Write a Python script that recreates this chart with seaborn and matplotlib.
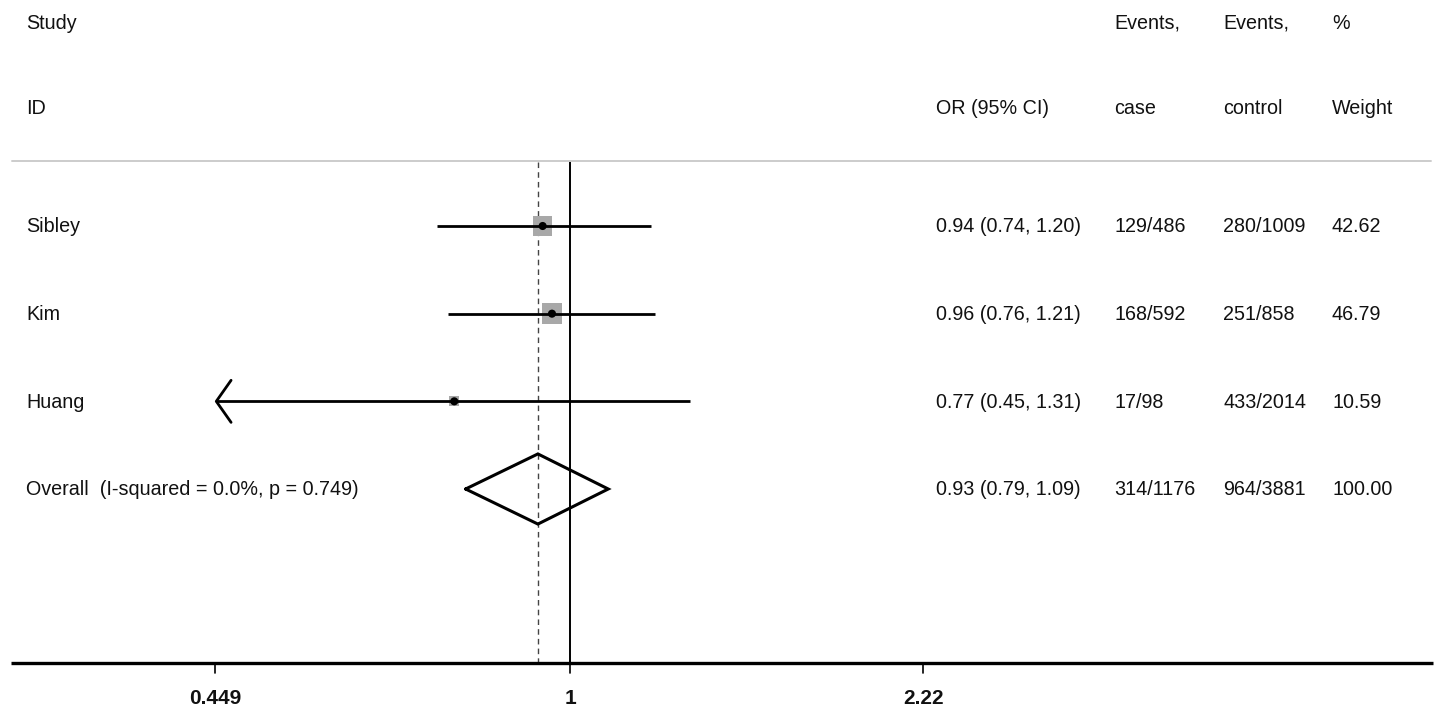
import numpy as np
import pandas as pd
import matplotlib
matplotlib.use("Agg")
import matplotlib.pyplot as plt
import seaborn as sns

# ---- data ----
studies = ["Sibley", "Kim", "Huang"]
or_est = [0.94, 0.96, 0.77]
ci_low = [0.74, 0.76, 0.45]
ci_high = [1.20, 1.21, 1.31]
events_case = ["129/486", "168/592", "17/98"]
events_control = ["280/1009", "251/858", "433/2014"]
weights = [42.62, 46.79, 10.59]

overall_label = "Overall  (I-squared = 0.0%, p = 0.749)"
overall_est = 0.93
overall_low = 0.79
overall_high = 1.09
overall_case = "314/1176"
overall_control = "964/3881"
overall_weight = 100.00

tick_values = [0.449, 1, 2.22]
tick_labels = ["0.449", "1", "2.22"]

# ---- figure ----
sns.set_theme(style="white")
plt.rcParams['font.family'] = ['Liberation Sans', 'DejaVu Sans']

W, H = 1441, 715
fig = plt.figure(figsize=(W / 100, H / 100), dpi=100)
ax = fig.add_axes([0, 0, 1, 1])
ax.set_xscale("log")
ax.set_xlim(0.2762, 7.14)
ax.set_ylim(6.578, -1.578)
ax.axis("off")

n = len(studies)
rows = np.arange(1, n + 1)
overall_row = n + 1
axis_y = 5.985
top_y = 0.27

df = pd.DataFrame({"study": studies, "est": or_est, "lo": ci_low, "hi": ci_high,
                   "w": weights, "row": rows})

xmin_disp = tick_values[0]

# vertical reference lines
ax.plot([1, 1], [top_y, axis_y], color="black", lw=1.4, zorder=1)
ax.plot([overall_est, overall_est], [top_y, axis_y], color="#444444", lw=1.0,
        ls=(0, (4, 3)), zorder=1)

# CI lines (with arrows when clipped)
for _, r in df.iterrows():
    lo = max(r.lo, xmin_disp)
    ax.plot([lo, r.hi], [r.row, r.row], color="black", lw=2.0, zorder=3,
            solid_capstyle="butt")
    if r.lo <= xmin_disp + 0.002:
        ax.plot([lo * 1.034, lo, lo * 1.034], [r.row - 0.24, r.row, r.row + 0.24],
                color="black", lw=2.0, zorder=3)

# weighted boxes
side_px = 20.5 * np.sqrt(df.w / max(weights))
df["s"] = (side_px * 0.72) ** 2
sns.scatterplot(data=df, x="est", y="row", size="s", sizes=(df.s.min(), df.s.max()),
                marker="s", color="#a8a8a8", edgecolor="none", legend=False, ax=ax,
                zorder=2)
# point estimates
sns.scatterplot(data=df, x="est", y="row", marker="o", s=34, color="black",
                edgecolor="none", legend=False, ax=ax, zorder=4)

# overall diamond
dx = [overall_low, overall_est, overall_high, overall_est, overall_low]
dy = [overall_row, overall_row - 0.4, overall_row, overall_row + 0.4, overall_row]
ax.plot(dx, dy, color="black", lw=2.2, zorder=4, solid_joinstyle="miter")

# axis line with ticks
ax.plot([0.2762 * np.exp(11 / 443), 0.2762 * np.exp(1433 / 443)], [axis_y, axis_y],
        color="black", lw=2.4, zorder=5, solid_capstyle="butt")
for tv, tl in zip(tick_values, tick_labels):
    ax.plot([tv, tv], [axis_y, axis_y + 0.11], color="black", lw=1.2, zorder=5)
    ax.text(tv, 6.39, tl, ha="center", va="center", fontsize=15,
            fontweight="bold", color="#111111")

# header separator
trans = ax.get_yaxis_transform()
ax.plot([12 / W, 1431 / W], [0.259, 0.259], transform=trans, color="#cccccc",
        lw=1.4, zorder=1)

fs = 14.2
txt = dict(fontsize=fs, color="#111111", va="center", ha="left", transform=trans)
col_study = 26 / W
col_or = 936 / W
col_case = 1114 / W
col_ctrl = 1223 / W
col_w = 1332 / W

ax.text(col_study, -1.31, "Study", **txt)
ax.text(col_study, -0.34, "ID", **txt)
ax.text(col_or, -0.34, "OR (95% CI)", **txt)
ax.text(col_case, -1.31, "Events,", **txt)
ax.text(col_case, -0.34, "case", **txt)
ax.text(col_ctrl, -1.31, "Events,", **txt)
ax.text(col_ctrl, -0.34, "control", **txt)
ax.text(col_w, -1.31, "%", **txt)
ax.text(col_w, -0.34, "Weight", **txt)

for i in range(n):
    y = rows[i] + 0.01
    ax.text(col_study, y, studies[i], **txt)
    ax.text(col_or, y, f"{or_est[i]:.2f} ({ci_low[i]:.2f}, {ci_high[i]:.2f})", **txt)
    ax.text(col_case, y, events_case[i], **txt)
    ax.text(col_ctrl, y, events_control[i], **txt)
    ax.text(col_w, y, f"{weights[i]:.2f}", **txt)

ax.text(col_study, overall_row + 0.01, overall_label, **txt)
ax.text(col_or, overall_row + 0.01, f"{overall_est:.2f} ({overall_low:.2f}, {overall_high:.2f})", **txt)
ax.text(col_case, overall_row + 0.01, overall_case, **txt)
ax.text(col_ctrl, overall_row + 0.01, overall_control, **txt)
ax.text(col_w, overall_row + 0.01, f"{overall_weight:.2f}", **txt)

fig.savefig("out.png", dpi=100)
